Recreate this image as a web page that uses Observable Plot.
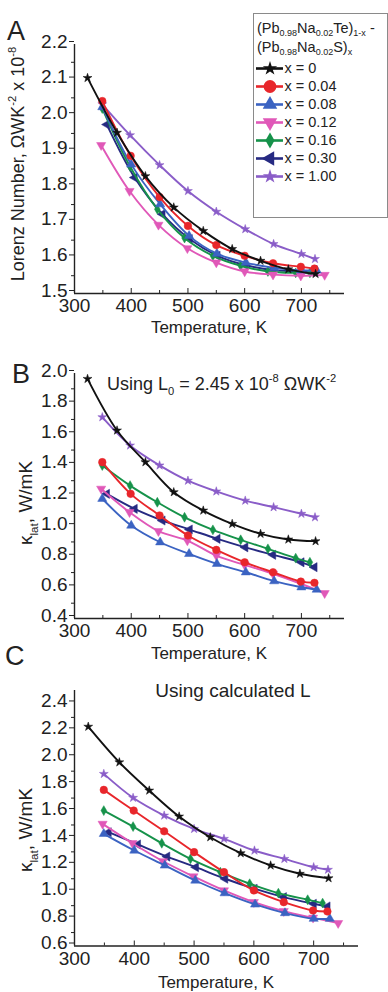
<!DOCTYPE html>
<html><head><meta charset="utf-8">
<script src="https://cdn.jsdelivr.net/npm/d3@7"></script>
<script src="https://cdn.jsdelivr.net/npm/@observablehq/plot@0.6"></script>
<style>
body{margin:0;background:#fff;font-family:"Liberation Sans",Arial,sans-serif;}
#wrap{position:relative;width:388px;height:992px;overflow:hidden;background:#fff}
#wrap svg{display:block}
.pos{position:absolute;left:0}
.legend{position:absolute;left:253px;top:13px;width:135px;height:205px;border:1px solid #8a8a8a;box-sizing:border-box;background:#fff;color:#222;font-size:14.5px;line-height:19px;padding:5px 0 0 3px;white-space:nowrap}
.legend sub{font-size:9px;vertical-align:-3px;line-height:0}
</style></head><body><div id="wrap"></div>
<script>
// ---- data: temperatures (K) per composition ----
const T_x0   = [323, 375, 425, 475, 527, 578, 628, 677, 725];
const T_x004 = [349, 399, 450, 500, 550, 600, 650, 699, 723];
const T_x008 = [349, 400, 451, 502, 551, 602, 652, 700, 727];
const T_x012 = [347, 397, 448, 499, 550, 600, 650, 699, 741];
const T_x016 = [349, 398, 446, 494, 544, 593, 641, 690, 715];
const T_x030 = [357, 406, 455, 503, 552, 601, 650, 700, 723];
const T_x100 = [349, 398, 450, 500, 550, 601, 651, 700, 724];
// ---- panel A: Lorenz number (x 1e-8 W Ohm K^-2) ----
const L_x0   = [2.106, 1.952, 1.830, 1.742, 1.676, 1.625, 1.592, 1.568, 1.555];
const L_x004 = [2.041, 1.887, 1.771, 1.690, 1.636, 1.606, 1.585, 1.575, 1.570];
const L_x008 = [2.024, 1.863, 1.751, 1.662, 1.612, 1.587, 1.572, 1.565, 1.565];
const L_x012 = [1.917, 1.788, 1.693, 1.627, 1.587, 1.562, 1.553, 1.550, 1.552];
const L_x016 = [2.020, 1.857, 1.737, 1.656, 1.606, 1.578, 1.562, 1.558, 1.558];
const L_x030 = [1.975, 1.826, 1.723, 1.653, 1.606, 1.580, 1.566, 1.562, 1.562];
const L_x100 = [2.032, 1.945, 1.861, 1.788, 1.730, 1.681, 1.639, 1.611, 1.597];
// ---- panel B: kappa_lat using L0 = 2.45e-8 ----
const K0_x0   = [1.965, 1.628, 1.421, 1.225, 1.105, 1.018, 0.953, 0.916, 0.905];
const K0_x004 = [1.421, 1.214, 1.073, 0.942, 0.848, 0.767, 0.702, 0.641, 0.633];
const K0_x008 = [1.182, 1.007, 0.898, 0.822, 0.757, 0.702, 0.644, 0.604, 0.589];
const K0_x012 = [1.247, 1.094, 0.970, 0.909, 0.811, 0.750, 0.692, 0.627, 0.565];
const K0_x016 = [1.399, 1.268, 1.159, 1.061, 0.979, 0.914, 0.855, 0.794, 0.767];
const K0_x030 = [1.214, 1.116, 1.040, 0.981, 0.920, 0.865, 0.816, 0.767, 0.735];
const K0_x100 = [1.715, 1.530, 1.400, 1.300, 1.230, 1.170, 1.127, 1.084, 1.061];
// ---- panel C: kappa_lat using calculated L ----
const KL_x0   = [2.231, 1.966, 1.756, 1.563, 1.409, 1.290, 1.199, 1.137, 1.104];
const KL_x004 = [1.761, 1.607, 1.453, 1.298, 1.149, 1.013, 0.926, 0.864, 0.857];
const KL_x008 = [1.434, 1.310, 1.199, 1.087, 0.993, 0.909, 0.845, 0.803, 0.803];
const KL_x012 = [1.508, 1.364, 1.230, 1.117, 1.013, 0.926, 0.859, 0.810, 0.770];
const KL_x016 = [1.607, 1.488, 1.364, 1.248, 1.149, 1.063, 0.993, 0.944, 0.919];
const KL_x030 = [1.446, 1.355, 1.265, 1.186, 1.100, 1.026, 0.963, 0.914, 0.894];
const KL_x100 = [1.880, 1.702, 1.570, 1.471, 1.397, 1.310, 1.248, 1.186, 1.167];
// ---- labels & ticks ----
const seriesLabels = ["x = 0", "x = 0.04", "x = 0.08", "x = 0.12", "x = 0.16", "x = 0.30", "x = 1.00"];
const xTicks = [300, 400, 500, 600, 700];
const xMinor = [350, 450, 550, 650, 750];
const yTicksA = [1.5, 1.6, 1.7, 1.8, 1.9, 2.0, 2.1, 2.2];
const yMinorA = [1.55, 1.65, 1.75, 1.85, 1.95, 2.05, 2.15];
const yTicksB = [0.4, 0.6, 0.8, 1.0, 1.2, 1.4, 1.6, 1.8, 2.0];
const yMinorB = [0.5, 0.7, 0.9, 1.1, 1.3, 1.5, 1.7, 1.9];
const yTicksC = [0.6, 0.8, 1.0, 1.2, 1.4, 1.6, 1.8, 2.0, 2.2, 2.4];
const yMinorC = [0.7, 0.9, 1.1, 1.3, 1.5, 1.7, 1.9, 2.1, 2.3];

// ---- styles ----
const s3 = Math.sqrt(3);
const triangleDown = {draw(c, s){const y = -Math.sqrt(s/(s3*3)); c.moveTo(0,-2*y); c.lineTo(-s3*y, y); c.lineTo(s3*y, y); c.closePath();}};
const triangleLeft = {draw(c, s){const y = -Math.sqrt(s/(s3*3)); c.moveTo(2*y,0); c.lineTo(-y,-s3*y); c.lineTo(-y, s3*y); c.closePath();}};
const styles = [
  {color:"#111111", symbol:"star",       r:2.8, rl:4.5},
  {color:"#e8262b", symbol:"circle",     r:3.8, rl:6.4},
  {color:"#3b63c2", symbol:"triangle",   r:3.4, rl:5.4},
  {color:"#e058b8", symbol:triangleDown, r:3.4, rl:5.4},
  {color:"#16924a", symbol:"diamond",    r:3.0, rl:4.8},
  {color:"#262a82", symbol:triangleLeft, r:3.4, rl:5.4},
  {color:"#8a5dc8", symbol:"star",       r:2.8, rl:4.5}
];
const temps = [T_x0, T_x004, T_x008, T_x012, T_x016, T_x030, T_x100];
const valsA = [L_x0, L_x004, L_x008, L_x012, L_x016, L_x030, L_x100];
const valsB = [K0_x0, K0_x004, K0_x008, K0_x012, K0_x016, K0_x030, K0_x100];
const valsC = [KL_x0, KL_x004, KL_x008, KL_x012, KL_x016, KL_x030, KL_x100];

function rows(vals, i){ return temps[i].map((t, j) => ({T: t, v: vals[i][j]})); }
function dataMarks(vals){
  const m = [];
  for (let i = styles.length - 1; i >= 0; i--) {
    const st = styles[i], d = rows(vals, i);
    m.push(Plot.line(d, {x:"T", y:"v", stroke: st.color, strokeWidth: 1.9, curve: "catmull-rom"}));
    m.push(Plot.dot(d, {x:"T", y:"v", fill: st.color, stroke: st.color, strokeWidth: 0.5, symbol: st.symbol, r: st.r}));
  }
  return m;
}
const FONT = "'Liberation Sans', Arial, sans-serif";
function panel({vals, yDomain, yTicks, yMinor, xMax, height, mt, mb, mr}) {
  return Plot.plot({
    width: 388, height, marginLeft: 74, marginRight: mr, marginTop: mt, marginBottom: mb,
    style: {fontFamily: FONT, fontSize: "19px", color: "#222", background: "transparent", overflow: "visible"},
    x: {domain: [300, xMax]},
    y: {domain: yDomain},
    marks: [
      Plot.axisX({ticks: xMinor, tickSize: 3, dy: -3, tickFormat: () => "", label: null}),
      Plot.axisX({ticks: xTicks, tickSize: 5, dy: -5, tickFormat: () => "", label: null}),
      Plot.axisX({ticks: xTicks, tickSize: 0, tickPadding: 5, label: null, fontSize: 19}),
      Plot.axisY({ticks: yMinor, tickSize: 3, tickFormat: () => "", label: null}),
      Plot.axisY({ticks: yTicks, tickSize: 5, tickPadding: 2, label: null, tickFormat: d3.format(".1f"), fontSize: 19, dy: -3}),
      Plot.ruleX([300], {stroke: "#222", strokeWidth: 1.4}),
      Plot.ruleY([yDomain[0]], {stroke: "#222", strokeWidth: 1.4}),
      ...dataMarks(vals)
    ]
  });
}

const wrap = document.getElementById("wrap");
function place(el, top){ el.classList.add("pos"); el.style.top = top + "px"; wrap.appendChild(el); }

place(panel({vals: valsA, yDomain: [1.5, 2.2], yTicks: yTicksA, yMinor: yMinorA, xMax: 776, height: 340, mt: 44, mb: 47, mr: 44}), 0);
place(panel({vals: valsB, yDomain: [0.4, 2.0], yTicks: yTicksB, yMinor: yMinorB, xMax: 776, height: 310, mt: 33, mb: 32, mr: 44}), 340);
place(panel({vals: valsC, yDomain: [0.6, 2.5], yTicks: yTicksC, yMinor: yMinorC, xMax: 775, height: 342, mt: 40, mb: 46.5, mr: 30}), 650);

// ---- legend ----
const leg = document.createElement("div");
leg.className = "legend";
leg.innerHTML = "(Pb<sub>0.98</sub>Na<sub>0.02</sub>Te)<sub>1-x</sub> -<br>(Pb<sub>0.98</sub>Na<sub>0.02</sub>S)<sub>x</sub>";
wrap.appendChild(leg);
const legRows = seriesLabels.map((k, i) => ({key: k, i}));
const legMarks = [];
legRows.forEach((d, i) => {
  const st = styles[i];
  legMarks.push(Plot.ruleY([d], {y: "key", x1: 0, x2: 1, stroke: st.color, strokeWidth: 2.6}));
  legMarks.push(Plot.dot([d], {x: 0.5, y: "key", fill: st.color, symbol: st.symbol, r: st.rl}));
});
legMarks.push(Plot.text(legRows, {x: 1, y: "key", text: "key", textAnchor: "start", dx: 1, fontSize: 14.5, fill: "#222"}));
const legPlot = Plot.plot({
  width: 133, height: 132, marginLeft: 2, marginRight: 104, marginTop: 9.4, marginBottom: 9.4,
  style: {fontFamily: FONT, background: "transparent", overflow: "visible"},
  x: {domain: [0, 1], axis: null},
  y: {type: "point", domain: seriesLabels, axis: null, padding: 0},
  marks: legMarks
});
legPlot.style.position = "absolute"; legPlot.style.left = "254px"; legPlot.style.top = "55.6px";
wrap.appendChild(legPlot);

// ---- text overlay ----
const ov = d3.select(wrap).append("svg").attr("width", 388).attr("height", 992)
  .style("position", "absolute").style("left", 0).style("top", 0)
  .style("font-family", FONT).style("fill", "#222").style("pointer-events", "none");
function rich(x, y, parts, size, opts = {}) {
  const t = ov.append("text").attr("font-size", size).attr("text-anchor", opts.anchor || "start");
  if (opts.rotate) t.attr("transform", `translate(${x},${y}) rotate(-90)`); else t.attr("x", x).attr("y", y);
  let shift = 0;
  for (const p of parts) {
    const want = p.sup ? -0.42 * size : p.sub ? 0.3 * size : 0;
    const sp = t.append("tspan").text(p.t).attr("dy", want - shift);
    if (p.sup || p.sub) sp.attr("font-size", size * 0.62);
    shift = want;
  }
}
// panel letters
rich(7, 40, [{t: "A"}], 27);
rich(12, 383, [{t: "B"}], 27);
rich(5, 665, [{t: "C"}], 27);
// y titles
rich(24, 164, [{t: "Lorenz Number, ΩWK"}, {t: "-2", sup: 1}, {t: " x 10"}, {t: "-8", sup: 1}], 18, {rotate: 1, anchor: "middle"});
rich(32, 503, [{t: "κ"}, {t: "lat", sub: 1}, {t: ", W/mK"}], 19, {rotate: 1, anchor: "middle"});
rich(32, 830, [{t: "κ"}, {t: "lat", sub: 1}, {t: ", W/mK"}], 19, {rotate: 1, anchor: "middle"});
// x titles
rich(209, 333, [{t: "Temperature, K"}], 17, {anchor: "middle"});
rich(209, 659, [{t: "Temperature, K"}], 17, {anchor: "middle"});
rich(216, 988, [{t: "Temperature, K"}], 17, {anchor: "middle"});
// annotations
rich(107, 390, [{t: "Using L"}, {t: "0", sub: 1}, {t: " = 2.45 x 10"}, {t: "-8", sup: 1}, {t: " ΩWK"}, {t: "-2", sup: 1}], 18);
rich(233, 697, [{t: "Using calculated L"}], 19, {anchor: "middle"});
</script></body></html>
